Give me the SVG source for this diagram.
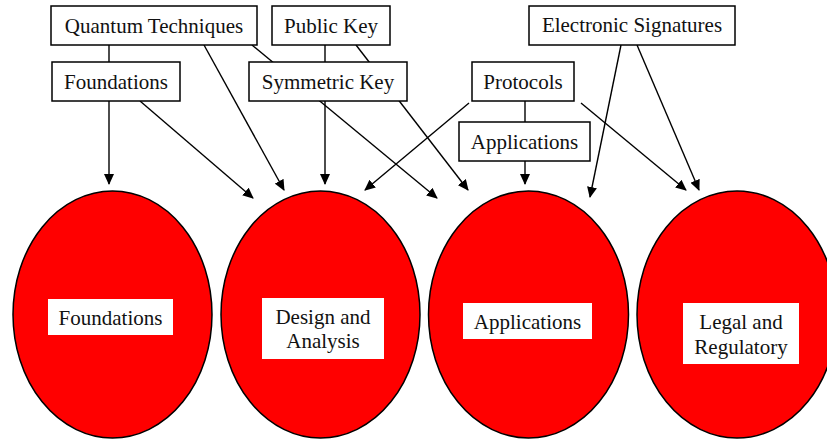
<svg xmlns="http://www.w3.org/2000/svg" width="827" height="439" viewBox="0 0 827 439">
  <style>
    .box { fill: #ffffff; stroke: #000000; stroke-width: 1.5; }
    .label { fill: #ffffff; stroke: none; }
    .area { fill: #ff0000; stroke: #000000; stroke-width: 1.5; }
    .txt { font-family: "Liberation Serif", "Times New Roman", serif; font-size: 21px; fill: #111111; text-anchor: middle; }
    .link { stroke: #000000; stroke-width: 1.4; fill: none; marker-end: url(#head); }
  </style>
  <defs>
    <marker id="head" markerUnits="userSpaceOnUse" markerWidth="11" markerHeight="10" refX="10" refY="5" orient="auto">
      <path d="M0,0 L11,5 L0,10 z" fill="#000000"/>
    </marker>
  </defs>

  <!-- connectors, drawn first so topic boxes sit on top of them -->
  <g id="connectors">
    <line class="link" x1="109" y1="45" x2="109" y2="184"/>
    <line class="link" x1="140" y1="101" x2="253" y2="198"/>
    <line class="link" x1="204" y1="45" x2="284" y2="190"/>
    <line class="link" x1="252" y1="45" x2="437" y2="198"/>
    <line class="link" x1="325" y1="45" x2="325" y2="184"/>
    <line class="link" x1="356" y1="45" x2="468" y2="190"/>
    <line class="link" x1="469" y1="103" x2="365" y2="190"/>
    <line class="link" x1="525" y1="101" x2="525" y2="184"/>
    <line class="link" x1="581" y1="103" x2="686" y2="190"/>
    <line class="link" x1="621" y1="45" x2="590" y2="197"/>
    <line class="link" x1="637" y1="45" x2="699" y2="190"/>
  </g>

  <!-- topic boxes -->
  <g id="quantum-techniques">
    <rect class="box" x="51" y="6" width="206" height="39"/>
    <text class="txt" x="154" y="33">Quantum Techniques</text>
  </g>
  <g id="public-key">
    <rect class="box" x="272" y="6" width="118" height="39"/>
    <text class="txt" x="331" y="33">Public Key</text>
  </g>
  <g id="electronic-signatures">
    <rect class="box" x="529" y="6" width="206" height="39"/>
    <text class="txt" x="632" y="32">Electronic Signatures</text>
  </g>
  <g id="foundations-topic">
    <rect class="box" x="52" y="62" width="128" height="39"/>
    <text class="txt" x="116" y="89">Foundations</text>
  </g>
  <g id="symmetric-key">
    <rect class="box" x="249" y="62" width="158" height="39"/>
    <text class="txt" x="328" y="89">Symmetric Key</text>
  </g>
  <g id="protocols">
    <rect class="box" x="472" y="62" width="102" height="39"/>
    <text class="txt" x="523" y="89">Protocols</text>
  </g>
  <g id="applications-topic">
    <rect class="box" x="459" y="122" width="131" height="39"/>
    <text class="txt" x="524.5" y="149">Applications</text>
  </g>

  <!-- area ellipses -->
  <g id="area-foundations">
    <ellipse class="area" cx="112.5" cy="314.5" rx="99.5" ry="123.5"/>
    <rect class="label" x="48" y="299" width="125" height="36"/>
    <text class="txt" x="110.5" y="325">Foundations</text>
  </g>
  <g id="area-design">
    <ellipse class="area" cx="320.5" cy="314.5" rx="99.5" ry="123.5"/>
    <rect class="label" x="262" y="298" width="122" height="61"/>
    <text class="txt" x="323" y="324">Design and</text>
    <text class="txt" x="323" y="348">Analysis</text>
  </g>
  <g id="area-applications">
    <ellipse class="area" cx="528.5" cy="314.5" rx="100" ry="123.5"/>
    <rect class="label" x="463" y="303" width="129" height="36"/>
    <text class="txt" x="527.5" y="329">Applications</text>
  </g>
  <g id="area-legal">
    <ellipse class="area" cx="737" cy="314.5" rx="100" ry="123.5"/>
    <rect class="label" x="683" y="303" width="116" height="61"/>
    <text class="txt" x="741" y="329">Legal and</text>
    <text class="txt" x="741" y="354">Regulatory</text>
  </g>
</svg>
